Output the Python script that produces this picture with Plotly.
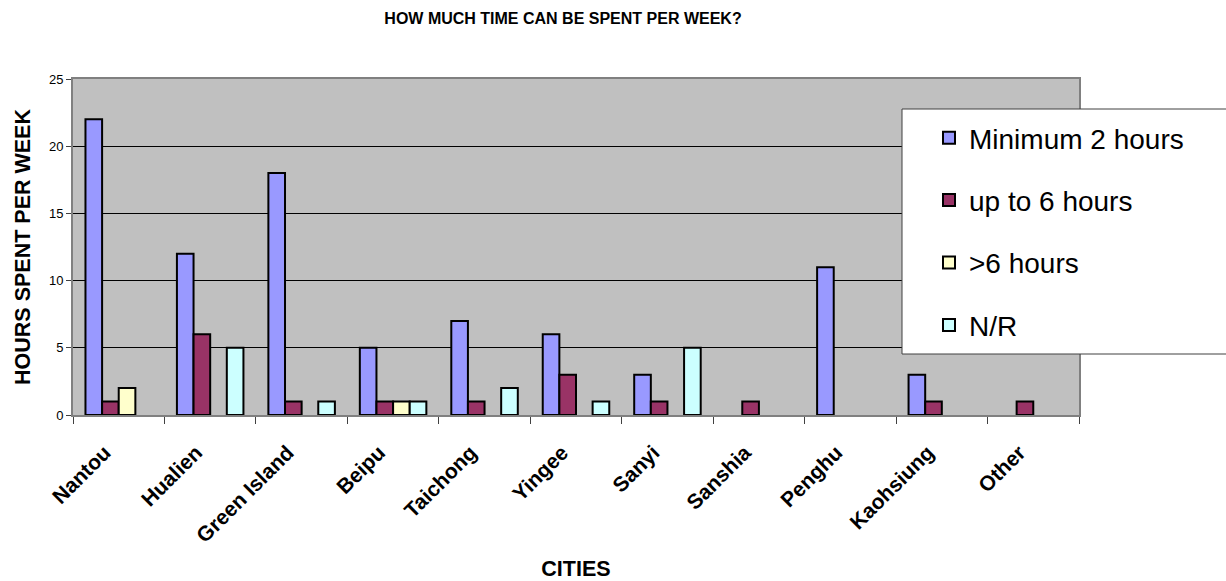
import plotly.graph_objects as go

cities = ["Nantou", "Hualien", "Green Island", "Beipu", "Taichong", "Yingee",
          "Sanyi", "Sanshia", "Penghu", "Kaohsiung", "Other"]
min_2_hours = [22, 12, 18, 5, 7, 6, 3, None, 11, 3, None]
up_to_6_hours = [1, 6, 1, 1, 1, 3, 1, 1, None, 1, 1]
over_6_hours = [2, None, None, 1, None, None, None, None, None, None, None]
no_response = [None, 5, 1, 1, 2, 1, 5, None, None, None, None]

series_names = ["Minimum 2 hours", "up to 6 hours", ">6 hours", "N/R"]
series_values = [min_2_hours, up_to_6_hours, over_6_hours, no_response]
series_colors = ["#9999FF", "#993366", "#FFFFCC", "#CCFFFF"]

y_ticks = [0, 5, 10, 15, 20, 25]

FONT = "Arial, Liberation Sans, sans-serif"

fig = go.Figure()
for name, vals, col in zip(series_names, series_values, series_colors):
    fig.add_trace(go.Bar(
        x=cities, y=vals, name=name, legendgroup=name,
        marker=dict(color=col, line=dict(color="#000000", width=2)),
    ))

W, H = 1226, 581
L, R, T, B = 73, 1079, 79, 415
pw, ph = R - L, B - T

def px_x(x):
    return (x - L) / pw

def px_y(y):
    return (B - y) / ph

# legend frame (extends past the right edge like the original)
fig.add_shape(type="rect", xref="paper", yref="paper",
              x0=px_x(902), x1=px_x(1240), y0=px_y(354), y1=px_y(109),
              fillcolor="#FFFFFF", line=dict(color="#404040", width=1),
              layer="above")

fig.update_layout(
    width=W, height=H,
    margin=dict(l=L, r=W - R, t=T, b=H - B, pad=0),
    paper_bgcolor="#FFFFFF",
    plot_bgcolor="#C0C0C0",
    barmode="group",
    bargap=0.2727,
    bargroupgap=0,
    font=dict(family=FONT, color="#000000"),
    title=dict(text="<b>HOW MUCH TIME CAN BE SPENT PER WEEK?</b>",
               x=563 / W, xanchor="center", xref="container",
               y=1 - 18 / H, yanchor="middle", yref="container",
               font=dict(size=16, family=FONT, color="#000000")),
    showlegend=True,
    legend=dict(
        x=px_x(929), xanchor="left", xref="paper",
        y=px_y(113), yanchor="top", yref="paper",
        bgcolor="rgba(0,0,0,0)", borderwidth=0,
        font=dict(size=28, family=FONT, color="#000000"),
        tracegroupgap=23,
        traceorder="grouped",
    ),
    xaxis=dict(
        type="category",
        tickson="boundaries",
        ticks="outside", ticklen=7, tickcolor="#404040", tickwidth=1,
        tickangle=-45,
        ticklabelstandoff=15,
        ticklabelshift=-14,
        tickfont=dict(size=21, family=FONT, color="#000000", weight="bold"),
        showline=True, linecolor="#808080", linewidth=2, mirror=True,
        showgrid=False, zeroline=False,
        title=dict(text="<b>CITIES</b>", font=dict(size=21.5, family=FONT),
                   standoff=33),
        automargin=False,
    ),
    yaxis=dict(
        range=[0, 25],
        tickvals=y_ticks,
        ticks="outside", ticklen=5, tickcolor="#404040", tickwidth=1,
        tickfont=dict(size=13, family=FONT, color="#000000"),
        showline=True, linecolor="#808080", linewidth=2, mirror=True,
        showgrid=True, gridcolor="#000000", gridwidth=1,
        zeroline=False,
        title=dict(text="<b>HOURS SPENT PER WEEK</b>",
                   font=dict(size=21.5, family=FONT), standoff=12),
        automargin=False,
    ),
)

fig.write_html("out.html")
